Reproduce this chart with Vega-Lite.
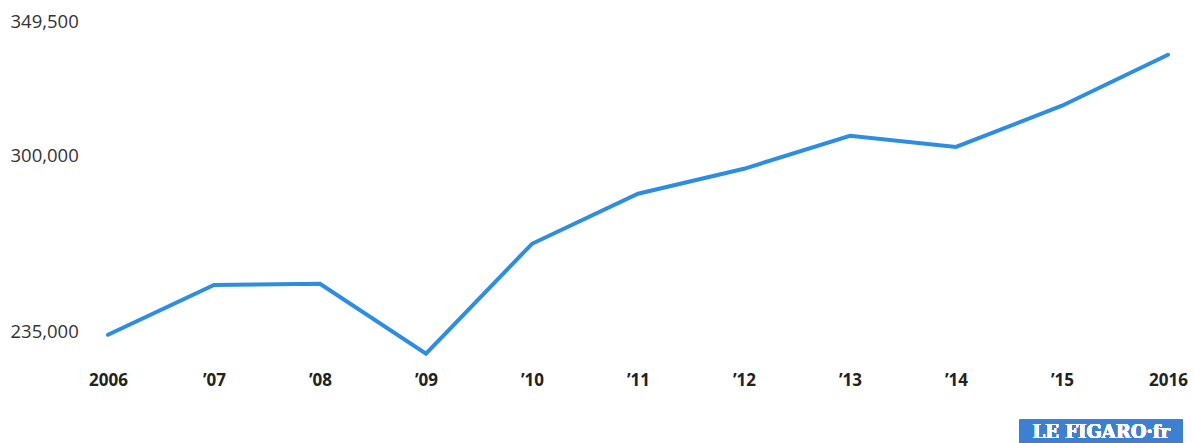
{
  "$schema": "https://vega.github.io/schema/vega-lite/v6.json",
  "autosize": "none",
  "width": 1060,
  "height": 352,
  "padding": {"left": 108, "top": 15, "right": 27, "bottom": 76},
  "background": "white",
  "config": {"view": {"stroke": null}},
  "data": {"values": [
    {"year": 2006, "value": 233900},
    {"year": 2007, "value": 252300},
    {"year": 2008, "value": 252700},
    {"year": 2009, "value": 226900},
    {"year": 2010, "value": 267500},
    {"year": 2011, "value": 286000},
    {"year": 2012, "value": 295200},
    {"year": 2013, "value": 307400},
    {"year": 2014, "value": 303300},
    {"year": 2015, "value": 318500},
    {"year": 2016, "value": 337300}
  ]},
  "resolve": {"axis": {"x": "independent", "y": "independent"}},
  "layer": [
    {
      "mark": {"type": "line", "color": "#2d8de0", "strokeWidth": 4, "strokeCap": "round", "strokeJoin": "miter"},
      "encoding": {
        "x": {"field": "year", "type": "quantitative",
          "scale": {"domain": [2006, 2016], "nice": false, "zero": false},
          "axis": {"values": [2006, 2007, 2008, 2009, 2010, 2011, 2012, 2013, 2014, 2015, 2016],
            "labelExpr": "datum.value == 2006 || datum.value == 2016 ? '' + datum.value : '\u2019' + substring('' + datum.value, 2)",
            "title": null, "grid": false, "domain": false, "ticks": false,
            "labelFont": "Open Sans", "labelFontWeight": "bold", "labelFontSize": 17, "labelColor": "#222",
            "labelPadding": 5, "labelFlush": false}},
        "y": {"field": "value", "type": "quantitative",
          "scale": {"domain": [222000, 352000], "nice": false, "zero": false},
          "axis": {"values": [235000, 300000, 349500], "labelExpr": "format(datum.value, ',')", "title": null, "grid": false,
            "domain": false, "ticks": false, "labelAlign": "left", "labelPadding": 98,
            "labelFont": "Open Sans", "labelFontSize": 18.5, "labelColor": "#333", "labelBaseline": "middle"}}
      }
    },
    {
      "mark": {"type": "rect", "color": "#3d7fd0"},
      "encoding": {
        "x": {"datum": 2014.6, "type": "quantitative", "axis": null},
        "x2": {"datum": 2016.14},
        "y": {"datum": 202500, "type": "quantitative", "axis": null},
        "y2": {"datum": 193000}
      }
    },
    {
      "mark": {"type": "text", "color": "white", "font": "DejaVu Serif", "fontWeight": "bold", "fontSize": 18, "align": "center", "baseline": "middle"},
      "encoding": {
        "x": {"datum": 2015.37, "type": "quantitative", "axis": null},
        "y": {"datum": 197500, "type": "quantitative", "axis": null},
        "text": {"value": "LE FIGARO·fr"}
      }
    }
  ]
}
